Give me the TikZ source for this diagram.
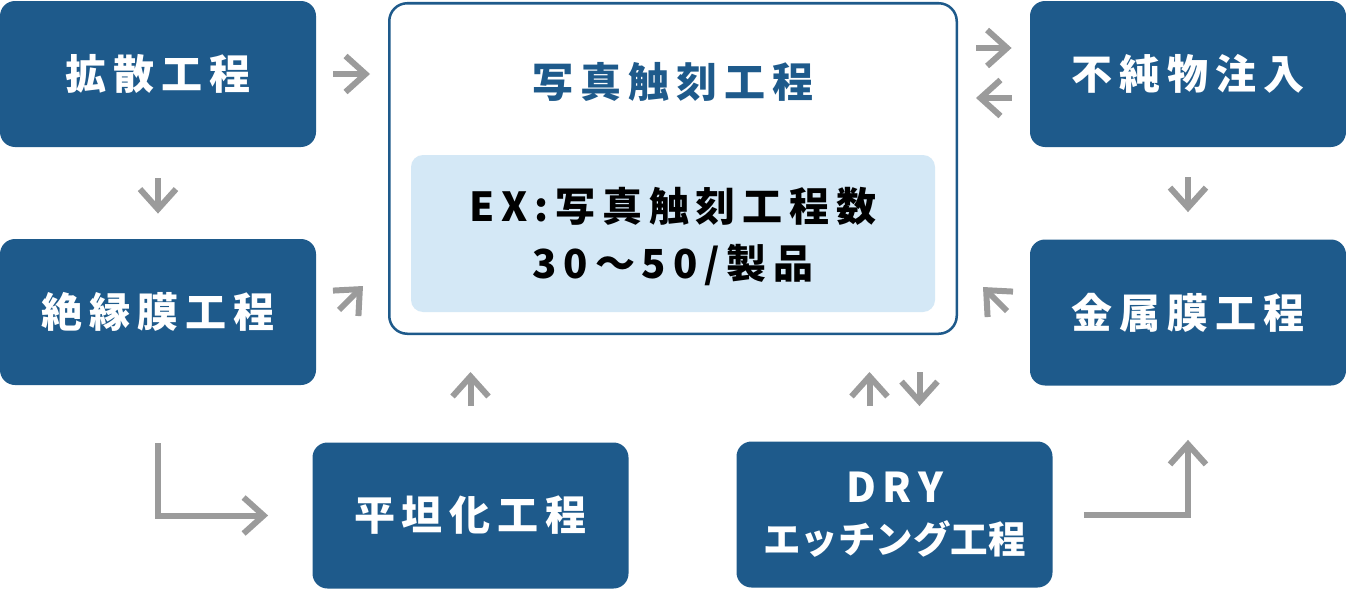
\documentclass[tikz,border=0pt]{standalone}
\usepackage{fontspec}
\usetikzlibrary{arrows.meta}
\newfontfamily\jpfont{Noto Sans CJK JP}[LetterSpace=17]
\newfontfamily\jpplain{Noto Sans CJK JP}
\definecolor{procblue}{RGB}{30,90,139}
\definecolor{exblue}{RGB}{212,232,246}
\definecolor{flowgray}{RGB}{155,155,155}
\newcommand{\boxradius}{7.5pt}
\newcommand{\labelfont}{\jpfont\bfseries\fontsize{20.5pt}{25.5pt}\selectfont}
\tikzset{
  procbox/.style={rectangle, rounded corners=\boxradius, fill=procblue, text=white,
    minimum width=158pt, minimum height=73pt, inner sep=0pt, font=\labelfont},
  photobox/.style={rectangle, rounded corners=9pt, draw=procblue, line width=1.25pt,
    fill=white, minimum width=283.75pt, minimum height=165.25pt, inner sep=0pt},
  exbox/.style={rectangle, rounded corners=6pt, fill=exblue,
    minimum width=262pt, minimum height=78.5pt, inner sep=0pt},
  flow/.style={draw=flowgray, line width=3pt,
    -{Straight Barb[length=10pt, width=18pt, sharp]}},
}

\begin{document}
\begin{tikzpicture}[x=0.5pt, y=-0.5pt]

\useasboundingbox (0,0) rectangle (1346,589);

% left column
\node[procbox] (kakusan) at (158,74) {拡散工程};
\node[procbox] (zetsuen) at (158,312) {絶縁膜工程};

% bottom row
\node[procbox, align=center] (heitan) at (470.5,515.5) {平坦化工程};
\node[procbox, align=center] (dry) at (894.5,514.5)
  {DRY\\{\jpplain\fontsize{18.75pt}{25.5pt}\selectfont エッチング工程}};

% right column
\node[procbox] (kinzoku) at (1188,312.5) {金属膜工程};
\node[procbox] (fujun) at (1188,74) {不純物注入};

% photo process in the middle
\node[photobox] (photo) at (673,168.5) {};
\node[exbox] (ex) at (673,233.5) {};
\node[font=\labelfont, text=procblue] (title) at (673,82) {写真触刻工程};
\node[font=\jpfont\bfseries\fontsize{20pt}{28.5pt}\selectfont, align=center] (extext) at (673,237)
  {EX:写真触刻工程数\\30〜50/製品};

% free ends of the short arrows
\coordinate (zd1) at (339,310);
\coordinate (zd2) at (363,286);
\coordinate (kd1) at (1007,311);
\coordinate (kd2) at (983,287);
\coordinate (dryup) at ([xshift=-12.5pt]dry.north);
\coordinate (drydown) at ([xshift=12.5pt]dry.north);
\coordinate (fjin) at ([yshift=13pt]fujun.west);
\coordinate (fjout) at ([yshift=-12pt]fujun.west);

\draw[flow, shorten <=8.5pt, shorten >=9pt] (kakusan.east) -- (kakusan.east -| photo.west);
\draw[flow, shorten <=15.5pt, shorten >=12.5pt] (kakusan.south) -- (zetsuen.north);
\draw[flow] (zd1) -- (zd2);
\draw[flow, shorten <=29pt, shorten >=22pt] (zetsuen.south) |- (heitan.west);
\draw[flow, shorten <=18pt, shorten >=18.5pt] (heitan.north) -- (heitan.north |- photo.south);
\draw[flow, shorten <=17.5pt, shorten >=18.5pt] (dryup) -- (dryup |- photo.south);
\draw[flow, shorten <=18.5pt, shorten >=17.5pt] (drydown |- photo.south) -- (drydown);
\draw[flow, shorten <=15.5pt, shorten >=27pt] (dry.east) -| (kinzoku.south);
\draw[flow] (kd1) -- (kd2);
\draw[flow, shorten <=15pt, shorten >=13.5pt] (fujun.south) -- (kinzoku.north);
\draw[flow, shorten <=9pt, shorten >=9pt] (fjin -| photo.east) -- (fjin);
\draw[flow, shorten <=9pt, shorten >=9pt] (fjout) -- (fjout -| photo.east);

\end{tikzpicture}
\end{document}
